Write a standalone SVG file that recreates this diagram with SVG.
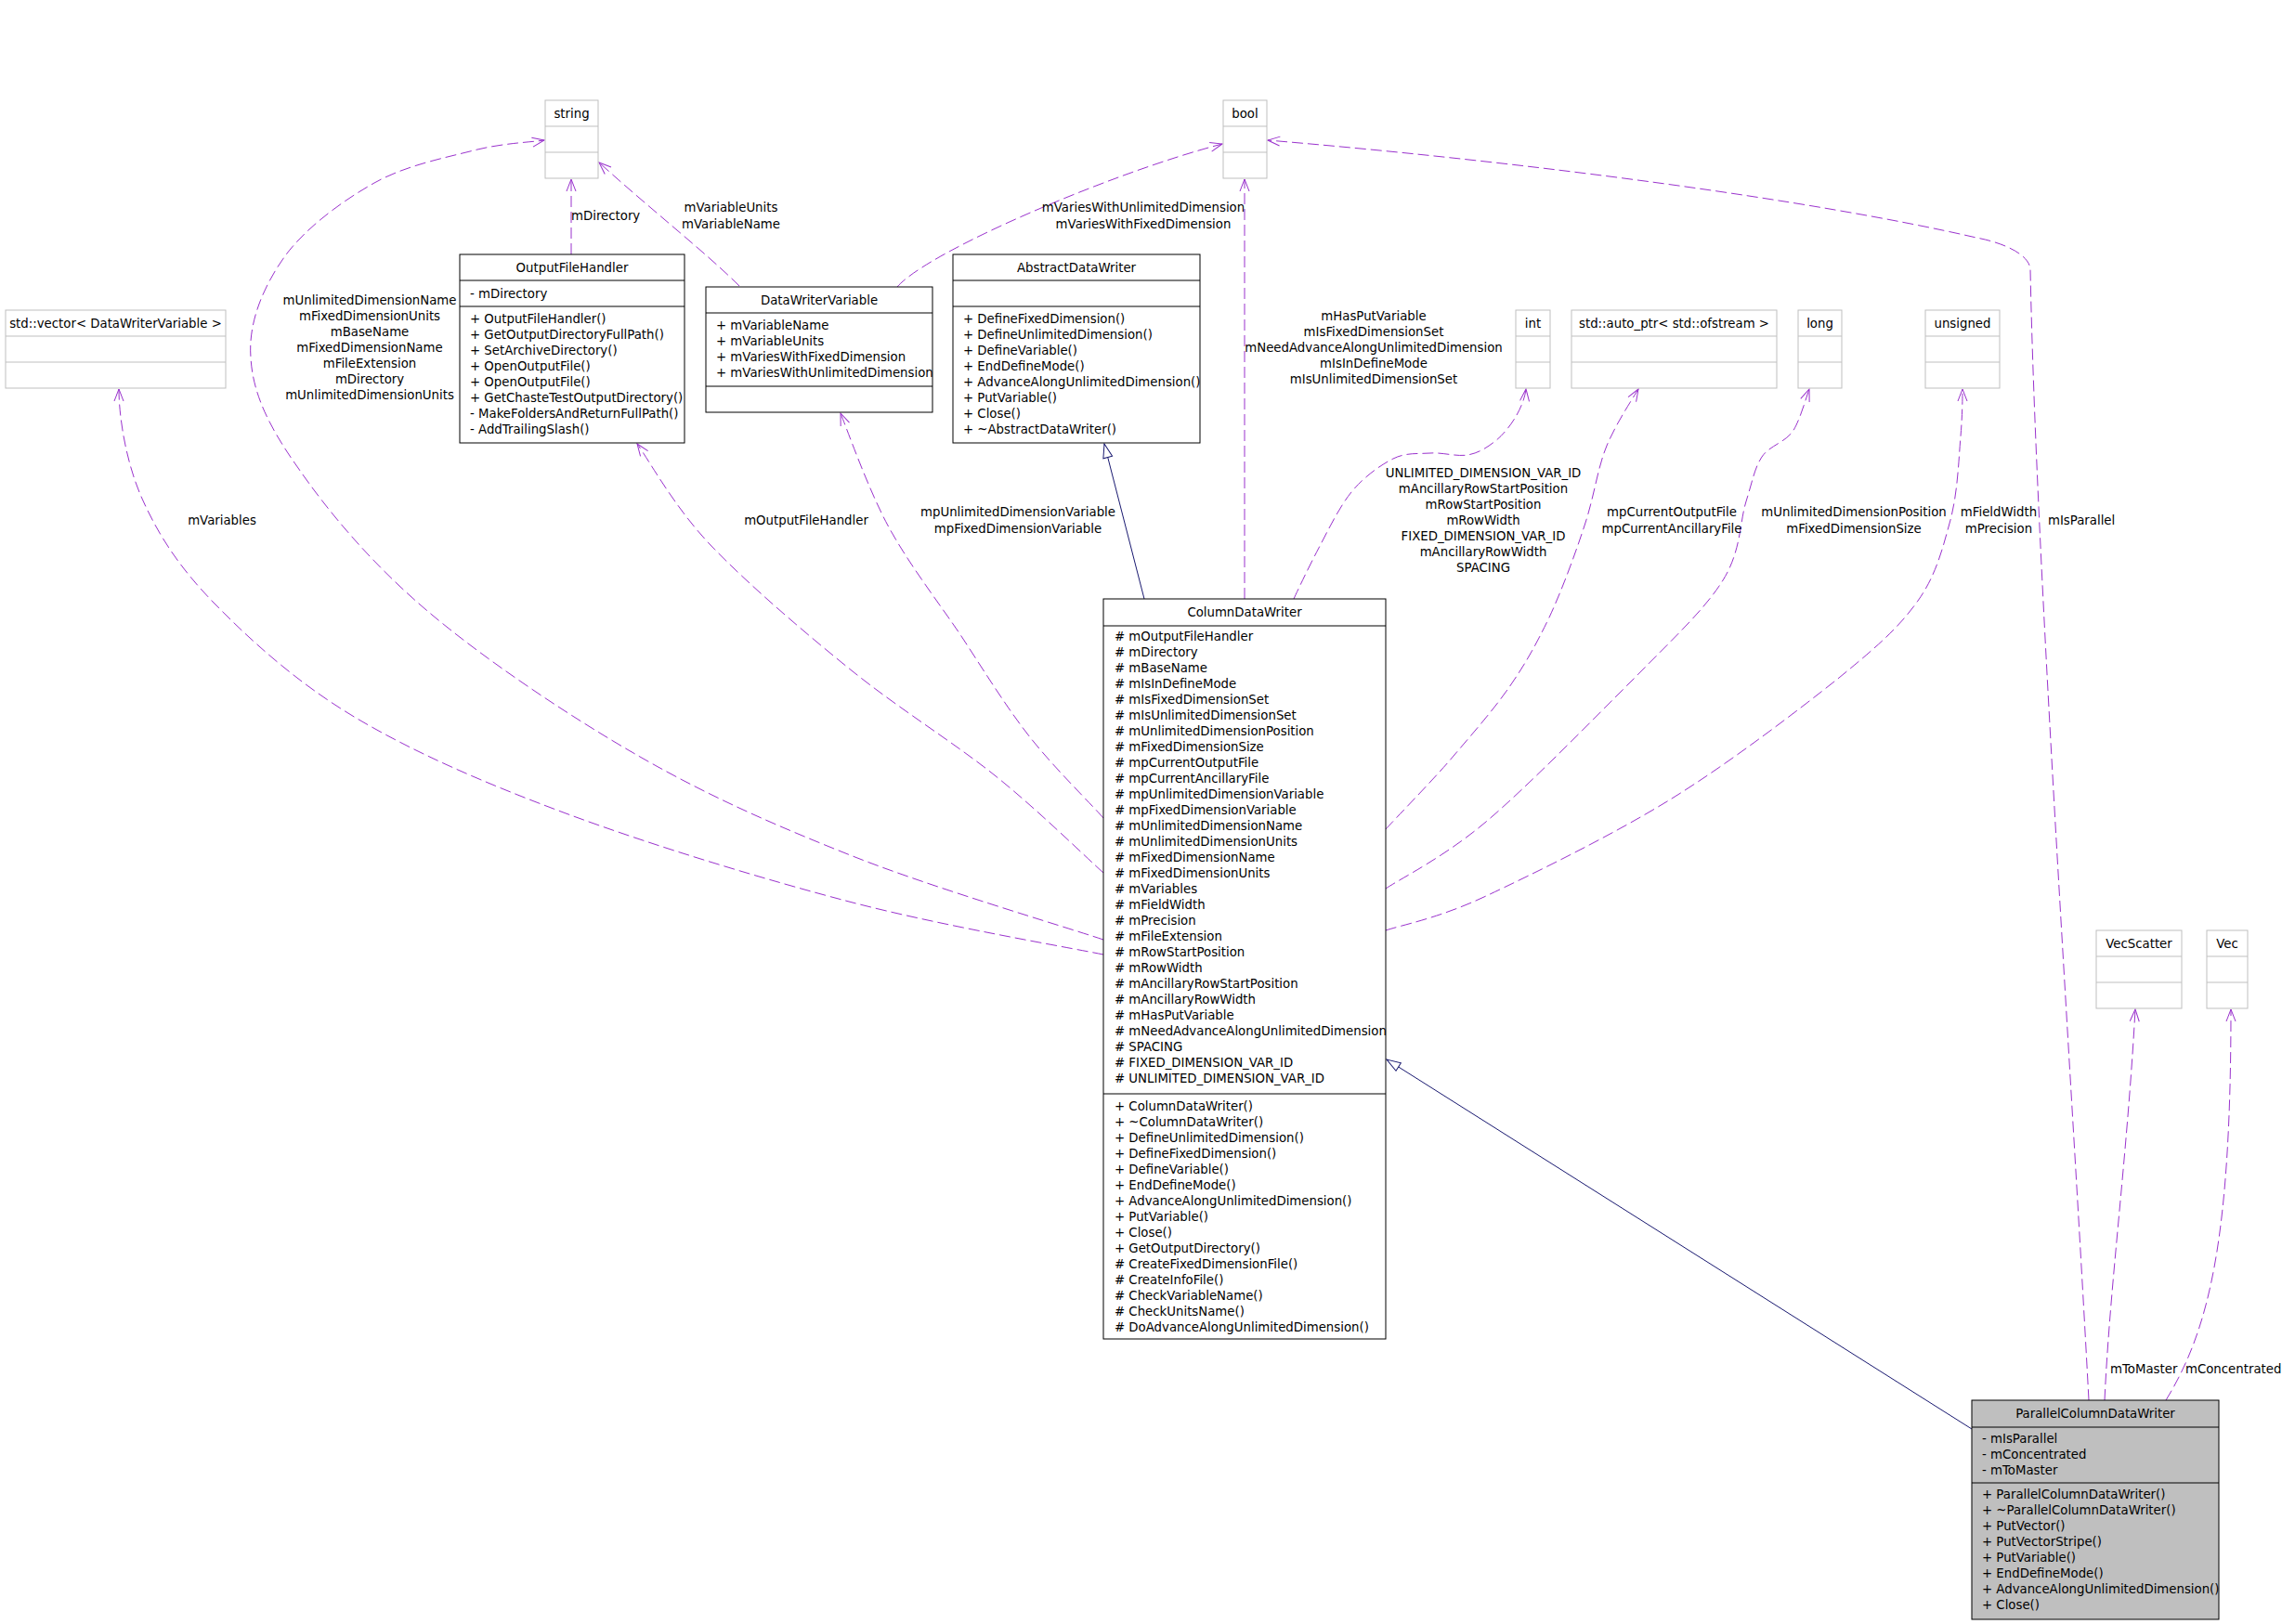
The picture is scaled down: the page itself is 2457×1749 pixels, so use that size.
<svg xmlns="http://www.w3.org/2000/svg" width="2457" height="1749" viewBox="0 0 2457 1749">
<style>
text{font-family:"DejaVu Sans","Liberation Sans",sans-serif;font-size:13.3px;fill:#000}
.c{text-anchor:middle}
.box{fill:#fff;stroke:#000;stroke-width:1}
.gbox{fill:#fff;stroke:#bfbfbf;stroke-width:1}
.gl{stroke:#bfbfbf;stroke-width:1}
.bl{stroke:#000;stroke-width:1}
.use{fill:none;stroke:#9a32cd;stroke-width:1;stroke-dasharray:12,5;marker-end:url(#open)}
.inh{fill:none;stroke:#191970;stroke-width:1;marker-end:url(#tri)}
</style>
<defs>
<marker id="open" markerUnits="userSpaceOnUse" markerWidth="16" markerHeight="12" refX="14" refY="6" orient="auto" viewBox="0 0 16 12"><path d="M1,1 L14,6 L1,11" fill="none" stroke="#9a32cd" stroke-width="1"/></marker>
<marker id="tri" markerUnits="userSpaceOnUse" markerWidth="18" markerHeight="12" refX="16" refY="6" orient="auto" viewBox="0 0 18 12"><path d="M1,1 L16,6 L1,11 Z" fill="#fff" stroke="#191970" stroke-width="1"/></marker>
</defs>
<rect width="2457" height="1749" fill="#fff"/>

<g id="connectors">
<path class="use" d="M1188,1028 C1143,1019 1014,997 918,972 C822,947 701,910 612,877 C523,844 447,811 383,773 C319,735 268,688 230,649 C192,610 170,575 153,537 C136,499 128,450 128,419"/>
<path class="use" d="M1188,1012 C1143,997 1001,955 918,922 C835,889 766,859 689,815 C612,771 520,709 459,657 C398,605 352,549 321,504 C289,459 272,423 270,385 C267,347 284,308 306,277 C328,246 369,216 403,197 C437,178 479,170 510,162 C541,154 574,153 586,151"/>
<path class="use" d="M1188,940 C1168,922 1116,871 1071,835 C1026,799 969,764 918,723 C867,682 804,628 765,587 C726,546 699,496 686,478"/>
<path class="use" d="M1188,881 C1175,866 1135,827 1109,794 C1083,761 1058,720 1033,682 C1007,644 977,605 956,566 C935,527 913,465 905,445"/>
<path class="use" d="M796,308 C760,272 700,225 645,175"/>
<path class="use" d="M615,274 L615,193"/>
<path class="use" d="M966,309 C1000,270 1200,185 1316,155"/>
<path class="use" d="M1340,645 L1340,193"/>
<path class="use" d="M1393,645 C1397,636 1410,609 1420,590 C1430,571 1442,546 1455,530 C1468,514 1486,501 1500,494 C1514,487 1527,489 1540,488 C1553,487 1568,492 1580,490 C1592,488 1601,482 1610,475 C1619,468 1628,456 1633,447 C1638,438 1642,428 1643,419"/>
<path class="use" d="M1492,893 C1503,881 1538,845 1560,820 C1582,794 1607,766 1625,740 C1643,714 1654,694 1668,665 C1682,635 1697,594 1707,563 C1717,532 1720,504 1730,480 C1740,456 1758,429 1764,419"/>
<path class="use" d="M1492,957 C1510,945 1555,923 1600,885 C1645,847 1717,773 1760,730 C1802,687 1835,657 1855,625 C1875,593 1873,562 1880,540 C1887,518 1889,504 1897,492 C1905,480 1921,477 1930,465 C1938,453 1945,427 1948,419"/>
<path class="use" d="M1492,1002 C1510,996 1549,989 1600,965 C1651,941 1737,899 1800,860 C1863,821 1936,765 1980,730 C2024,694 2045,675 2065,647 C2085,619 2092,589 2100,560 C2108,530 2109,493 2111,470 C2113,446 2113,427 2113,419"/>
<path class="use" d="M2249,1508 C2230,1150 2192,600 2186,290 C2185,275 2160,262 2128,256 C1950,215 1650,175 1365,151"/>
<path class="use" d="M2266,1508 C2272,1380 2290,1250 2299,1087"/>
<path class="use" d="M2332,1508 C2380,1430 2402,1330 2402,1087"/>
<path class="inh" d="M1232,645 L1189,478"/>
<path class="inh" d="M2123,1539 L1493,1141"/>
</g>

<g id="labels">
<text class="c"><tspan x="398" y="328">mUnlimitedDimensionName</tspan><tspan x="398" y="345">mFixedDimensionUnits</tspan><tspan x="398" y="362">mBaseName</tspan><tspan x="398" y="379">mFixedDimensionName</tspan><tspan x="398" y="396">mFileExtension</tspan><tspan x="398" y="413">mDirectory</tspan><tspan x="398" y="430">mUnlimitedDimensionUnits</tspan></text>
<text x="615" y="237">mDirectory</text>
<text class="c"><tspan x="787" y="228">mVariableUnits</tspan><tspan x="787" y="246">mVariableName</tspan></text>
<text class="c"><tspan x="1231" y="228">mVariesWithUnlimitedDimension</tspan><tspan x="1231" y="246">mVariesWithFixedDimension</tspan></text>
<text class="c"><tspan x="1479" y="345">mHasPutVariable</tspan><tspan x="1479" y="362">mIsFixedDimensionSet</tspan><tspan x="1479" y="379">mNeedAdvanceAlongUnlimitedDimension</tspan><tspan x="1479" y="396">mIsInDefineMode</tspan><tspan x="1479" y="413">mIsUnlimitedDimensionSet</tspan></text>
<text class="c" x="239" y="565">mVariables</text>
<text class="c" x="868" y="565">mOutputFileHandler</text>
<text class="c"><tspan x="1096" y="556">mpUnlimitedDimensionVariable</tspan><tspan x="1096" y="574">mpFixedDimensionVariable</tspan></text>
<text class="c"><tspan x="1597" y="514">UNLIMITED_DIMENSION_VAR_ID</tspan><tspan x="1597" y="531">mAncillaryRowStartPosition</tspan><tspan x="1597" y="548">mRowStartPosition</tspan><tspan x="1597" y="565">mRowWidth</tspan><tspan x="1597" y="582">FIXED_DIMENSION_VAR_ID</tspan><tspan x="1597" y="599">mAncillaryRowWidth</tspan><tspan x="1597" y="616">SPACING</tspan></text>
<text class="c"><tspan x="1800" y="556">mpCurrentOutputFile</tspan><tspan x="1800" y="574">mpCurrentAncillaryFile</tspan></text>
<text class="c"><tspan x="1996" y="556">mUnlimitedDimensionPosition</tspan><tspan x="1996" y="574">mFixedDimensionSize</tspan></text>
<text class="c"><tspan x="2152" y="556">mFieldWidth</tspan><tspan x="2152" y="574">mPrecision</tspan></text>
<text x="2205" y="565">mIsParallel</text>
<text x="2272" y="1479">mToMaster</text>
<text x="2353" y="1479">mConcentrated</text>
</g>

<g id="node-string">
<rect class="gbox" x="587" y="108" width="57" height="84"/>
<line class="gl" x1="587" y1="136" x2="644" y2="136"/><line class="gl" x1="587" y1="164" x2="644" y2="164"/>
<text class="c" x="615.5" y="126.5">string</text>
</g>
<g id="node-bool">
<rect class="gbox" x="1317" y="108" width="47" height="84"/>
<line class="gl" x1="1317" y1="136" x2="1364" y2="136"/><line class="gl" x1="1317" y1="164" x2="1364" y2="164"/>
<text class="c" x="1340.5" y="126.5">bool</text>
</g>
<g id="node-vector">
<rect class="gbox" x="6" y="334" width="237" height="84"/>
<line class="gl" x1="6" y1="362" x2="243" y2="362"/><line class="gl" x1="6" y1="390" x2="243" y2="390"/>
<text class="c" x="124.5" y="352.5">std::vector&lt; DataWriterVariable &gt;</text>
</g>
<g id="node-int">
<rect class="gbox" x="1632" y="334" width="37" height="84"/>
<line class="gl" x1="1632" y1="362" x2="1669" y2="362"/><line class="gl" x1="1632" y1="390" x2="1669" y2="390"/>
<text class="c" x="1650.5" y="352.5">int</text>
</g>
<g id="node-autoptr">
<rect class="gbox" x="1692" y="334" width="221" height="84"/>
<line class="gl" x1="1692" y1="362" x2="1913" y2="362"/><line class="gl" x1="1692" y1="390" x2="1913" y2="390"/>
<text class="c" x="1802.5" y="352.5">std::auto_ptr&lt; std::ofstream &gt;</text>
</g>
<g id="node-long">
<rect class="gbox" x="1936" y="334" width="47" height="84"/>
<line class="gl" x1="1936" y1="362" x2="1983" y2="362"/><line class="gl" x1="1936" y1="390" x2="1983" y2="390"/>
<text class="c" x="1959.5" y="352.5">long</text>
</g>
<g id="node-unsigned">
<rect class="gbox" x="2073" y="334" width="80" height="84"/>
<line class="gl" x1="2073" y1="362" x2="2153" y2="362"/><line class="gl" x1="2073" y1="390" x2="2153" y2="390"/>
<text class="c" x="2113" y="352.5">unsigned</text>
</g>
<g id="node-vecscatter">
<rect class="gbox" x="2257" y="1002" width="92" height="84"/>
<line class="gl" x1="2257" y1="1030" x2="2349" y2="1030"/><line class="gl" x1="2257" y1="1058" x2="2349" y2="1058"/>
<text class="c" x="2303" y="1020.5">VecScatter</text>
</g>
<g id="node-vec">
<rect class="gbox" x="2376" y="1002" width="44" height="84"/>
<line class="gl" x1="2376" y1="1030" x2="2420" y2="1030"/><line class="gl" x1="2376" y1="1058" x2="2420" y2="1058"/>
<text class="c" x="2398" y="1020.5">Vec</text>
</g>

<g id="node-OutputFileHandler">
<rect class="box" x="495" y="274" width="242" height="203"/>
<line class="bl" x1="495" y1="302" x2="737" y2="302"/><line class="bl" x1="495" y1="330" x2="737" y2="330"/>
<text class="c" x="616" y="292.5">OutputFileHandler</text>
<text x="506" y="320.5">- mDirectory</text>
<text x="506"><tspan x="506" y="347.5">+ OutputFileHandler()</tspan><tspan x="506" y="364.5">+ GetOutputDirectoryFullPath()</tspan><tspan x="506" y="381.5">+ SetArchiveDirectory()</tspan><tspan x="506" y="398.5">+ OpenOutputFile()</tspan><tspan x="506" y="415.5">+ OpenOutputFile()</tspan><tspan x="506" y="432.5">+ GetChasteTestOutputDirectory()</tspan><tspan x="506" y="449.5">- MakeFoldersAndReturnFullPath()</tspan><tspan x="506" y="466.5">- AddTrailingSlash()</tspan></text>
</g>

<g id="node-DataWriterVariable">
<rect class="box" x="760" y="309" width="244" height="135"/>
<line class="bl" x1="760" y1="337" x2="1004" y2="337"/><line class="bl" x1="760" y1="416" x2="1004" y2="416"/>
<text class="c" x="882" y="327.5">DataWriterVariable</text>
<text><tspan x="771" y="354.5">+ mVariableName</tspan><tspan x="771" y="371.5">+ mVariableUnits</tspan><tspan x="771" y="388.5">+ mVariesWithFixedDimension</tspan><tspan x="771" y="405.5">+ mVariesWithUnlimitedDimension</tspan></text>
</g>

<g id="node-AbstractDataWriter">
<rect class="box" x="1026" y="274" width="266" height="203"/>
<line class="bl" x1="1026" y1="302" x2="1292" y2="302"/><line class="bl" x1="1026" y1="330" x2="1292" y2="330"/>
<text class="c" x="1159" y="292.5">AbstractDataWriter</text>
<text><tspan x="1037" y="347.5">+ DefineFixedDimension()</tspan><tspan x="1037" y="364.5">+ DefineUnlimitedDimension()</tspan><tspan x="1037" y="381.5">+ DefineVariable()</tspan><tspan x="1037" y="398.5">+ EndDefineMode()</tspan><tspan x="1037" y="415.5">+ AdvanceAlongUnlimitedDimension()</tspan><tspan x="1037" y="432.5">+ PutVariable()</tspan><tspan x="1037" y="449.5">+ Close()</tspan><tspan x="1037" y="466.5">+ ~AbstractDataWriter()</tspan></text>
</g>

<g id="node-ColumnDataWriter">
<rect class="box" x="1188" y="645" width="304" height="797"/>
<line class="bl" x1="1188" y1="674" x2="1492" y2="674"/><line class="bl" x1="1188" y1="1178" x2="1492" y2="1178"/>
<text class="c" x="1340" y="663.5">ColumnDataWriter</text>
<text><tspan x="1200" y="689.5"># mOutputFileHandler</tspan><tspan x="1200" y="706.5"># mDirectory</tspan><tspan x="1200" y="723.5"># mBaseName</tspan><tspan x="1200" y="740.5"># mIsInDefineMode</tspan><tspan x="1200" y="757.5"># mIsFixedDimensionSet</tspan><tspan x="1200" y="774.5"># mIsUnlimitedDimensionSet</tspan><tspan x="1200" y="791.5"># mUnlimitedDimensionPosition</tspan><tspan x="1200" y="808.5"># mFixedDimensionSize</tspan><tspan x="1200" y="825.5"># mpCurrentOutputFile</tspan><tspan x="1200" y="842.5"># mpCurrentAncillaryFile</tspan><tspan x="1200" y="859.5"># mpUnlimitedDimensionVariable</tspan><tspan x="1200" y="876.5"># mpFixedDimensionVariable</tspan><tspan x="1200" y="893.5"># mUnlimitedDimensionName</tspan><tspan x="1200" y="910.5"># mUnlimitedDimensionUnits</tspan><tspan x="1200" y="927.5"># mFixedDimensionName</tspan><tspan x="1200" y="944.5"># mFixedDimensionUnits</tspan><tspan x="1200" y="961.5"># mVariables</tspan><tspan x="1200" y="978.5"># mFieldWidth</tspan><tspan x="1200" y="995.5"># mPrecision</tspan><tspan x="1200" y="1012.5"># mFileExtension</tspan><tspan x="1200" y="1029.5"># mRowStartPosition</tspan><tspan x="1200" y="1046.5"># mRowWidth</tspan><tspan x="1200" y="1063.5"># mAncillaryRowStartPosition</tspan><tspan x="1200" y="1080.5"># mAncillaryRowWidth</tspan><tspan x="1200" y="1097.5"># mHasPutVariable</tspan><tspan x="1200" y="1114.5"># mNeedAdvanceAlongUnlimitedDimension</tspan><tspan x="1200" y="1131.5"># SPACING</tspan><tspan x="1200" y="1148.5"># FIXED_DIMENSION_VAR_ID</tspan><tspan x="1200" y="1165.5"># UNLIMITED_DIMENSION_VAR_ID</tspan></text>
<text><tspan x="1200" y="1195.5">+ ColumnDataWriter()</tspan><tspan x="1200" y="1212.5">+ ~ColumnDataWriter()</tspan><tspan x="1200" y="1229.5">+ DefineUnlimitedDimension()</tspan><tspan x="1200" y="1246.5">+ DefineFixedDimension()</tspan><tspan x="1200" y="1263.5">+ DefineVariable()</tspan><tspan x="1200" y="1280.5">+ EndDefineMode()</tspan><tspan x="1200" y="1297.5">+ AdvanceAlongUnlimitedDimension()</tspan><tspan x="1200" y="1314.5">+ PutVariable()</tspan><tspan x="1200" y="1331.5">+ Close()</tspan><tspan x="1200" y="1348.5">+ GetOutputDirectory()</tspan><tspan x="1200" y="1365.5"># CreateFixedDimensionFile()</tspan><tspan x="1200" y="1382.5"># CreateInfoFile()</tspan><tspan x="1200" y="1399.5"># CheckVariableName()</tspan><tspan x="1200" y="1416.5"># CheckUnitsName()</tspan><tspan x="1200" y="1433.5"># DoAdvanceAlongUnlimitedDimension()</tspan></text>
</g>

<g id="node-ParallelColumnDataWriter">
<rect x="2123" y="1508" width="266" height="236" fill="#bfbfbf" stroke="#000" stroke-width="1"/>
<line class="bl" x1="2123" y1="1537" x2="2389" y2="1537"/><line class="bl" x1="2123" y1="1597" x2="2389" y2="1597"/>
<text class="c" x="2256" y="1526.5">ParallelColumnDataWriter</text>
<text><tspan x="2134" y="1553.5">- mIsParallel</tspan><tspan x="2134" y="1570.5">- mConcentrated</tspan><tspan x="2134" y="1587.5">- mToMaster</tspan></text>
<text><tspan x="2134" y="1613.5">+ ParallelColumnDataWriter()</tspan><tspan x="2134" y="1630.5">+ ~ParallelColumnDataWriter()</tspan><tspan x="2134" y="1647.5">+ PutVector()</tspan><tspan x="2134" y="1664.5">+ PutVectorStripe()</tspan><tspan x="2134" y="1681.5">+ PutVariable()</tspan><tspan x="2134" y="1698.5">+ EndDefineMode()</tspan><tspan x="2134" y="1715.5">+ AdvanceAlongUnlimitedDimension()</tspan><tspan x="2134" y="1732.5">+ Close()</tspan></text>
</g>
</svg>
